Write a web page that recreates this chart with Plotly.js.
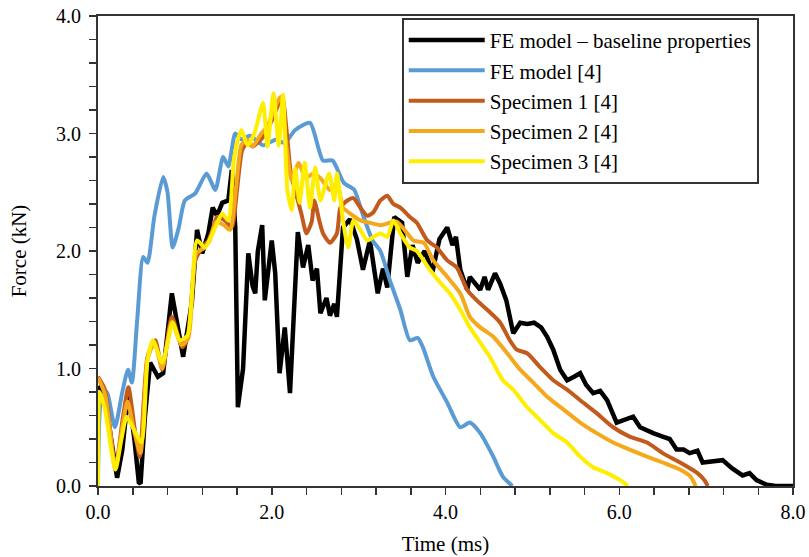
<!DOCTYPE html>
<html>
<head>
<meta charset="utf-8">
<script src="https://cdn.plot.ly/plotly-3.0.1.min.js"></script>
<style>html,body{margin:0;padding:0;background:#fff;}#chart{width:809px;height:557px;}</style>
</head>
<body>
<div id="chart"></div>
<script>
// Series names
const seriesNames = ["FE model \u2013 baseline properties", "FE model [4]", "Specimen 1 [4]", "Specimen 2 [4]", "Specimen 3 [4]"];

// FE model – baseline properties (time ms, force kN)
const baseT = [0.00,0.06,0.12,0.22,0.28,0.35,0.42,0.47,0.49,0.54,0.60,0.69,0.75,0.85,0.91,0.98,1.08,1.14,1.20,1.27,1.32,1.37,1.43,1.50,1.54,1.58,1.61,1.67,1.73,1.78,1.81,1.84,1.89,1.92,2.00,2.04,2.09,2.15,2.21,2.27,2.30,2.36,2.42,2.47,2.52,2.56,2.63,2.67,2.72,2.75,2.82,2.90,2.98,3.05,3.13,3.22,3.28,3.33,3.41,3.50,3.56,3.62,3.68,3.76,3.85,3.93,4.02,4.08,4.12,4.17,4.25,4.28,4.34,4.40,4.45,4.49,4.57,4.63,4.70,4.78,4.86,4.94,5.02,5.10,5.17,5.24,5.32,5.40,5.48,5.55,5.62,5.70,5.78,5.86,5.97,6.05,6.16,6.24,6.32,6.39,6.50,6.58,6.66,6.74,6.81,6.90,6.96,7.08,7.19,7.30,7.42,7.50,7.58,7.70,7.80,8.00];
const baseF = [0.85,0.80,0.55,0.07,0.31,0.80,0.39,0.03,0.02,0.59,1.05,0.93,0.96,1.64,1.39,1.10,1.56,2.18,1.98,2.15,2.37,2.30,2.41,2.43,2.69,2.20,0.67,1.00,1.98,1.70,1.64,2.00,2.22,1.58,2.09,1.81,0.96,1.35,0.79,1.69,2.16,1.86,2.05,1.75,1.85,1.47,1.60,1.45,1.55,1.44,2.20,2.27,2.10,1.84,2.09,1.64,1.85,1.69,2.29,2.24,1.78,2.05,1.90,2.00,1.82,2.10,2.20,2.05,2.12,1.84,1.67,1.78,1.72,1.67,1.78,1.67,1.81,1.72,1.58,1.30,1.39,1.38,1.39,1.35,1.27,1.16,0.99,0.90,0.93,0.96,0.86,0.79,0.81,0.73,0.54,0.56,0.59,0.50,0.47,0.45,0.42,0.40,0.31,0.31,0.28,0.30,0.20,0.21,0.22,0.15,0.09,0.11,0.05,0.01,0.00,0.00];

// FE model [4]
const feT = [0.00,0.04,0.10,0.195,0.28,0.345,0.39,0.45,0.52,0.57,0.65,0.75,0.80,0.86,0.93,1.00,1.12,1.25,1.35,1.44,1.50,1.58,1.65,1.75,1.90,2.05,2.15,2.27,2.44,2.59,2.70,2.83,2.95,3.03,3.16,3.25,3.36,3.48,3.59,3.68,3.74,3.86,4.02,4.17,4.28,4.40,4.55,4.66,4.77];
const feF = [0.00,0.75,0.80,0.50,0.80,0.99,0.88,1.40,1.95,1.90,2.30,2.63,2.50,2.03,2.20,2.43,2.49,2.66,2.52,2.80,2.72,3.00,2.95,2.98,2.90,2.95,2.92,3.03,3.09,2.77,2.77,2.58,2.52,2.35,2.09,2.00,1.75,1.50,1.24,1.26,1.18,0.93,0.71,0.50,0.54,0.45,0.25,0.08,0.00];

// Specimen 1 [4]
const s1T = [0.00,0.08,0.20,0.28,0.35,0.42,0.48,0.57,0.66,0.74,0.85,0.97,1.03,1.12,1.20,1.27,1.32,1.37,1.46,1.54,1.60,1.66,1.72,1.78,1.90,2.00,2.12,2.17,2.22,2.29,2.34,2.40,2.46,2.49,2.55,2.59,2.67,2.75,2.79,2.87,2.94,3.02,3.10,3.17,3.25,3.33,3.40,3.48,3.59,3.67,3.79,3.90,4.02,4.13,4.25,4.36,4.48,4.63,4.74,4.82,4.94,5.09,5.24,5.40,5.55,5.74,5.93,6.12,6.32,6.50,6.70,6.90,6.98,7.02];
const s1F = [0.93,0.82,0.14,0.55,0.84,0.50,0.25,1.10,1.24,0.99,1.44,1.18,1.25,1.92,2.03,2.09,2.18,2.29,2.26,2.20,2.52,2.86,2.92,2.89,2.97,3.11,3.31,3.03,2.66,2.46,2.32,2.15,2.25,2.43,2.25,2.15,2.07,2.15,2.37,2.43,2.45,2.37,2.30,2.33,2.43,2.47,2.40,2.37,2.29,2.24,2.09,2.03,1.92,1.86,1.67,1.58,1.50,1.39,1.24,1.16,1.13,1.01,0.90,0.82,0.73,0.62,0.50,0.42,0.37,0.28,0.20,0.11,0.05,0.00];

// Specimen 2 [4]
const s2T = [0.00,0.08,0.20,0.28,0.34,0.42,0.49,0.57,0.65,0.74,0.85,0.96,1.04,1.13,1.21,1.28,1.36,1.45,1.52,1.59,1.65,1.72,1.78,1.88,1.95,2.10,2.17,2.23,2.31,2.39,2.48,2.56,2.67,2.75,2.82,2.90,3.02,3.13,3.25,3.36,3.44,3.56,3.63,3.75,3.86,4.02,4.17,4.28,4.40,4.55,4.71,4.86,5.01,5.17,5.36,5.55,5.74,5.93,6.12,6.32,6.50,6.70,6.82,6.88];
const s2F = [0.92,0.78,0.16,0.50,0.72,0.45,0.28,1.08,1.22,1.00,1.40,1.20,1.26,1.98,2.02,2.08,2.25,2.22,2.18,2.55,2.90,2.95,2.89,3.00,3.06,3.31,2.89,2.60,2.75,2.62,2.66,2.62,2.52,2.58,2.37,2.32,2.26,2.24,2.22,2.24,2.25,2.15,2.09,2.07,1.92,1.78,1.64,1.44,1.35,1.27,1.13,0.99,0.88,0.76,0.65,0.54,0.45,0.37,0.31,0.25,0.20,0.14,0.08,0.00];

// Specimen 3 [4]
const s3T = [0.00,0.02,0.08,0.20,0.27,0.33,0.40,0.50,0.57,0.63,0.74,0.86,0.94,1.03,1.14,1.23,1.35,1.43,1.50,1.56,1.60,1.65,1.72,1.80,1.90,1.95,2.02,2.08,2.13,2.18,2.23,2.27,2.32,2.38,2.44,2.50,2.56,2.66,2.72,2.75,2.82,2.88,2.94,3.02,3.10,3.17,3.25,3.33,3.40,3.48,3.59,3.67,3.82,3.94,4.05,4.17,4.28,4.40,4.51,4.66,4.78,4.94,5.09,5.24,5.40,5.55,5.70,5.86,6.01,6.10];
const s3F = [0.00,0.80,0.65,0.14,0.40,0.59,0.50,0.37,1.07,1.24,1.05,1.39,1.24,1.28,2.09,2.03,2.20,2.32,2.26,2.75,2.92,3.03,2.90,3.00,3.26,2.89,3.34,2.90,3.33,2.52,2.35,2.70,2.41,2.75,2.37,2.71,2.43,2.66,2.43,2.66,2.26,2.03,2.26,2.18,2.09,2.12,2.15,2.12,2.26,2.15,2.03,2.00,1.84,1.73,1.64,1.50,1.35,1.22,1.10,0.90,0.82,0.67,0.56,0.45,0.37,0.25,0.16,0.11,0.05,0.00];

// Axis tick labels
const xTickVals = [0, 2, 4, 6, 8];
const xTickText = ["0.0", "2.0", "4.0", "6.0", "8.0"];
const yTickVals = [0, 1, 2, 3, 4];
const yTickText = ["0.0", "1.0", "2.0", "3.0", "4.0"];

const colors = ["#000000", "#5b9bd5", "#c25a1c", "#f5a81c", "#ffee00"];
const widths = [4.5, 4, 4, 4, 4];
const xs = [baseT, feT, s1T, s2T, s3T];
const ys = [baseF, feF, s1F, s2F, s3F];

const serif = "Liberation Serif, Times New Roman, serif";

const traces = seriesNames.map((n, i) => ({
  type: "scatter", mode: "lines", name: n, x: xs[i], y: ys[i],
  legendgroup: "g" + i,
  line: {color: colors[i], width: widths[i], shape: i === 0 ? "linear" : "spline", smoothing: 0.6}
}));

const axisCommon = {
  showline: true, linecolor: "#333", linewidth: 2, mirror: true,
  ticks: "outside", ticklen: 7, tickwidth: 1.5, tickcolor: "#333",
  showgrid: false, zeroline: false,
  tickfont: {family: serif, size: 20, color: "#000"}
};

const layout = {
  width: 809, height: 557,
  margin: {l: 98, r: 16, t: 16, b: 71},
  paper_bgcolor: "#fff", plot_bgcolor: "#fff",
  showlegend: true,
  xaxis: Object.assign({}, axisCommon, {
    range: [0, 8], tickvals: xTickVals, ticktext: xTickText,
    minor: {dtick: 0.4, tick0: 0, ticks: "outside", ticklen: 7, tickcolor: "#333", tickwidth: 1.5},
    title: {text: "Time (ms)", font: {family: serif, size: 21, color: "#000"}, standoff: 14}
  }),
  yaxis: Object.assign({}, axisCommon, {
    range: [0, 4], tickvals: yTickVals, ticktext: yTickText,
    ticklabelstandoff: 4,
    minor: {dtick: 0.2, tick0: 0, ticks: "outside", ticklen: 7, tickcolor: "#333", tickwidth: 1.5},
    title: {text: "Force (kN)", font: {family: serif, size: 21, color: "#000"}, standoff: 24}
  }),
  legend: {
    x: 0.437, y: 0.996, xanchor: "left", yanchor: "top",
    bgcolor: "#fff", bordercolor: "#333", borderwidth: 2,
    font: {family: serif, size: 21, color: "#000"},
    itemwidth: 76, tracegroupgap: 0, traceorder: "normal"
  }
};

Plotly.newPlot("chart", traces, layout, {staticPlot: true, displayModeBar: false});
</script>
</body>
</html>
